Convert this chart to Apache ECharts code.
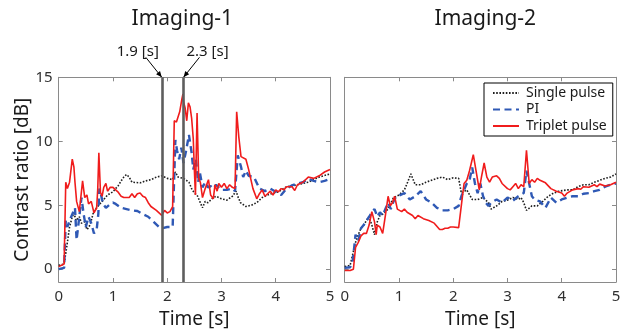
<!DOCTYPE html>
<html>
<head>
<meta charset="utf-8">
<script src="https://cdn.jsdelivr.net/npm/echarts/dist/echarts.min.js"></script>
<style>
html,body{margin:0;padding:0;background:#fff;}
#chart{width:625px;height:334px;}
</style>
</head>
<body>
<div id="chart"></div>
<script>
// ---------- DATA ----------
const panelTitles = ['Imaging-1', 'Imaging-2'];
const seriesNames = ['Single pulse', 'PI', 'Triplet pulse'];
const xTicks = [0, 1, 2, 3, 4, 5];
const yTicks = [0, 5, 10, 15];
const markTimes = [1.9, 2.3];
const markLabels = ['1.9 [s]', '2.3 [s]'];

// Imaging-1
const t1Single = [0,0.1,0.15,0.2,0.25,0.28,0.32,0.38,0.42,0.48,0.52,0.56,0.6,0.65,0.7,0.8,0.9,1.0,1.1,1.15,1.2,1.25,1.3,1.35,1.5,1.6,1.7,1.8,1.9,2.0,2.1,2.15,2.2,2.3,2.4,2.45,2.5,2.55,2.6,2.65,2.7,2.75,2.85,2.9,3.0,3.1,3.2,3.27,3.3,3.35,3.45,3.55,3.65,3.75,3.85,3.95,4.05,4.2,4.4,4.6,4.8,5.0];
const v1Single = [0.3,0.4,1.8,3.3,4.1,4.4,3.8,4.1,3.6,3.7,3.1,3.3,3.8,4.6,4.8,5.3,5.8,6.05,6.55,6.9,7.2,7.4,7.2,6.8,6.75,6.9,7.0,7.2,7.3,7.1,7.0,7.6,7.2,7.1,6.8,6.3,5.95,5.8,5.3,4.8,5.3,5.2,5.6,5.7,5.5,5.4,5.7,6.1,5.7,5.2,4.9,5.0,5.2,5.6,5.8,5.95,6.05,6.45,6.6,6.8,7.2,7.45];

const t1PI = [0,0.1,0.13,0.16,0.2,0.25,0.3,0.33,0.38,0.42,0.46,0.5,0.55,0.6,0.65,0.7,0.73,0.75,0.78,0.82,0.87,0.95,1.0,1.05,1.15,1.25,1.35,1.45,1.55,1.65,1.75,1.85,1.9,2.0,2.1,2.15,2.18,2.22,2.26,2.3,2.35,2.4,2.45,2.48,2.53,2.57,2.6,2.65,2.7,2.75,2.8,2.85,2.9,3.0,3.1,3.2,3.25,3.3,3.36,3.4,3.45,3.5,3.6,3.7,3.8,3.9,4.0,4.1,4.2,4.3,4.4,4.5,4.6,4.7,4.8,4.9,5.0];
const v1PI = [0.0,0.1,3.8,3.3,3.8,4.3,4.8,2.3,4.1,5.6,4.3,3.3,4.1,3.6,2.8,3.1,4.3,6.3,5.8,5.1,4.8,5.1,5.2,5.1,4.8,4.7,4.6,4.55,4.3,4.1,3.7,3.3,3.2,3.3,3.3,10.1,9.3,8.6,9.5,8.3,9.3,10.5,9.1,7.8,8.6,6.8,7.6,6.4,6.8,6.4,6.5,6.3,6.6,6.2,6.2,6.3,6.1,8.9,8.0,7.2,7.7,7.3,7.2,6.3,6.1,6.3,6.05,5.8,6.3,6.55,6.7,6.8,7.05,6.9,6.8,6.9,7.05];

const t1Triplet = [0,0.1,0.13,0.16,0.2,0.25,0.28,0.3,0.33,0.38,0.4,0.44,0.48,0.52,0.55,0.6,0.65,0.7,0.72,0.74,0.77,0.8,0.83,0.87,0.9,0.95,1.0,1.1,1.15,1.2,1.3,1.35,1.4,1.45,1.5,1.55,1.6,1.65,1.7,1.8,1.85,1.9,1.95,2.0,2.05,2.1,2.13,2.17,2.2,2.23,2.27,2.29,2.3,2.33,2.36,2.39,2.42,2.45,2.48,2.5,2.52,2.55,2.58,2.61,2.65,2.7,2.76,2.8,2.85,2.88,2.92,2.95,3.0,3.05,3.1,3.15,3.2,3.25,3.28,3.32,3.36,3.45,3.5,3.58,3.65,3.7,3.75,3.8,3.85,3.9,3.95,4.0,4.05,4.1,4.15,4.2,4.3,4.35,4.4,4.5,4.6,4.7,4.8,4.9,5.0];
const v1Triplet = [0.2,0.4,6.8,6.3,6.8,8.6,8.0,6.8,5.3,4.5,5.3,6.9,5.6,5.8,5.1,5.3,4.4,4.8,6.3,9.1,6.0,5.7,6.4,6.7,6.1,6.4,6.4,6.0,5.7,5.6,5.6,5.9,5.6,5.9,5.95,5.7,5.6,5.2,4.9,4.6,4.4,4.2,4.6,4.4,4.5,4.9,11.6,11.5,11.6,12.3,13.3,13.7,13.1,12.6,11.6,13.0,12.7,11.8,10.2,7.8,5.8,12.2,7.1,6.8,5.6,6.3,7.0,5.8,5.5,6.6,6.1,6.7,6.4,6.7,6.3,6.6,6.4,6.3,12.3,10.3,8.8,8.6,7.8,6.3,5.5,5.9,6.2,5.7,5.9,6.1,5.8,6.2,6.05,6.3,6.2,6.45,6.45,6.15,6.6,6.8,7.2,7.1,7.3,7.6,7.8];

// Imaging-2
const t2Single = [0,0.1,0.15,0.2,0.25,0.3,0.35,0.4,0.45,0.5,0.55,0.6,0.65,0.7,0.8,0.9,1.0,1.1,1.15,1.22,1.3,1.4,1.5,1.6,1.7,1.8,1.9,2.0,2.1,2.15,2.25,2.35,2.45,2.55,2.65,2.7,2.8,2.9,3.0,3.1,3.2,3.25,3.3,3.35,3.45,3.55,3.65,3.75,3.85,3.95,4.1,4.2,4.3,4.4,4.5,4.6,4.7,4.8,4.9,5.0];
const v2Single = [0.2,0.3,1.2,2.1,2.7,3.2,3.45,3.8,4.1,3.45,2.7,3.7,4.2,4.3,4.7,5.6,5.8,6.2,6.7,7.45,6.6,6.6,6.8,6.95,7.1,7.2,7.0,7.15,7.1,5.95,6.2,5.45,5.45,5.6,5.2,4.7,4.95,5.3,5.4,5.6,5.45,5.6,5.2,4.6,4.95,4.95,5.3,5.7,5.95,6.1,6.2,6.2,6.45,6.6,6.6,6.8,6.95,7.1,7.2,7.45];

const t2PI = [0,0.1,0.15,0.2,0.25,0.3,0.35,0.45,0.5,0.55,0.6,0.65,0.7,0.75,0.8,0.85,0.9,0.95,1.0,1.1,1.2,1.3,1.4,1.5,1.6,1.7,1.8,1.9,2.0,2.1,2.15,2.2,2.25,2.3,2.35,2.4,2.45,2.5,2.55,2.6,2.65,2.7,2.8,2.9,3.0,3.1,3.2,3.3,3.35,3.4,3.45,3.5,3.6,3.7,3.8,3.9,4.0,4.1,4.2,4.3,4.4,4.5,4.6,4.7,4.8,4.9,5.0];
const v2PI = [0.1,0.15,0.7,2.7,2.2,3.2,3.45,4.1,4.45,4.7,4.1,4.45,4.2,4.7,5.2,4.7,5.3,5.7,5.75,5.95,5.45,5.7,6.1,5.45,5.2,4.8,4.6,4.6,4.7,4.95,5.7,6.2,6.7,6.95,7.95,6.7,5.95,6.7,5.7,5.2,4.95,5.2,5.45,5.2,5.6,5.35,5.7,5.95,7.7,6.7,5.7,5.45,5.3,4.8,5.6,5.2,5.45,5.6,5.7,5.7,5.9,5.95,6.1,6.2,6.45,6.6,6.7];

const t2Triplet = [0,0.1,0.16,0.2,0.25,0.3,0.35,0.4,0.45,0.5,0.55,0.58,0.6,0.65,0.7,0.75,0.8,0.84,0.88,0.92,0.97,1.05,1.1,1.15,1.25,1.3,1.35,1.45,1.55,1.65,1.75,1.8,1.85,1.9,1.95,2.0,2.1,2.17,2.2,2.25,2.3,2.37,2.42,2.48,2.52,2.57,2.62,2.67,2.72,2.8,2.85,2.9,3.0,3.05,3.1,3.15,3.2,3.25,3.3,3.35,3.4,3.45,3.5,3.55,3.6,3.7,3.8,3.9,4.0,4.05,4.1,4.2,4.3,4.35,4.4,4.5,4.6,4.65,4.7,4.8,4.9,5.0];
const v2Triplet = [-0.1,-0.1,0.0,1.7,2.1,2.6,2.8,2.8,3.45,4.5,3.7,2.7,3.45,3.3,2.8,4.2,5.7,4.95,5.2,5.7,4.7,4.5,4.7,4.45,4.2,3.95,4.2,3.95,3.8,3.6,3.1,3.1,3.2,3.2,3.3,3.3,3.25,5.7,6.7,6.95,7.7,8.95,7.7,6.2,7.2,8.3,7.2,6.8,7.2,7.3,7.1,6.7,6.3,6.2,6.45,6.7,6.3,6.6,6.45,9.3,6.7,7.0,6.8,7.1,6.95,6.75,6.3,6.1,5.95,5.7,5.95,6.2,6.3,6.25,6.45,6.4,6.6,6.45,6.65,6.5,6.6,6.8];

// ---------- CHART ----------
const FONT = 'Noto Sans';
const zip = (t, v) => t.map((x, i) => [x, v[i]]);
const colors = { single: '#1f1f1f', pi: '#2f59b5', triplet: '#f01c1c' };

const grids = [
  { left: 58.7, top: 77.3, width: 271.3, height: 211.4 },
  { left: 344.7, top: 77.3, width: 271.3, height: 211.4 }
];

const frameColor = '#8a8a8a';
const labelColor = '#303030';

function xAx(gi, pos) {
  const bottom = pos === 'bottom';
  return {
    type: 'value', gridIndex: gi, position: pos, min: 0, max: 5, interval: 1,
    axisLine: { show: true, onZero: false, lineStyle: { color: frameColor, width: 1 } },
    axisTick: { show: true, inside: true, length: 4, lineStyle: { color: frameColor } },
    axisLabel: { show: bottom, margin: 7, color: labelColor, fontFamily: FONT, fontSize: 15,
      customValues: xTicks },
    splitLine: { show: false },
    name: bottom ? 'Time [s]' : '', nameLocation: 'middle', nameGap: 28,
    nameTextStyle: { fontFamily: FONT, fontSize: 19, color: '#1a1a1a' }
  };
}
function yAx(gi, pos, labels) {
  return {
    type: 'value', gridIndex: gi, position: pos, min: -1, max: 15,
    axisLine: { show: true, onZero: false, lineStyle: { color: frameColor, width: 1 } },
    axisTick: { show: true, inside: true, length: 4, customValues: yTicks, lineStyle: { color: frameColor } },
    axisLabel: { show: labels, customValues: yTicks, margin: 6, color: labelColor, fontFamily: FONT, fontSize: 15 },
    splitLine: { show: false },
    name: labels ? 'Contrast ratio [dB]' : '', nameLocation: 'middle', nameGap: 20,
    nameTextStyle: { fontFamily: FONT, fontSize: 19, color: '#1a1a1a' }
  };
}

function mkSeries(name, gi, t, v, kind, extra) {
  const s = {
    name, type: 'line', xAxisIndex: gi * 2, yAxisIndex: gi * 2,
    data: zip(t, v), symbol: 'none', showSymbol: false, animation: false,
    lineStyle: {}
  };
  if (kind === 'single') { s.lineStyle = { color: colors.single, width: 1.6, type: [1.6, 1.6] }; s.itemStyle = { color: colors.single }; s.z = 2; }
  if (kind === 'pi') { s.lineStyle = { color: colors.pi, width: 2.4, type: [7, 4.5] }; s.itemStyle = { color: colors.pi }; s.z = 3; }
  if (kind === 'triplet') { s.lineStyle = { color: colors.triplet, width: 1.6 }; s.itemStyle = { color: colors.triplet }; s.z = 4; }
  return Object.assign(s, extra || {});
}

const markLineCfg = {
  silent: true, symbol: ['none', 'none'], animation: false,
  label: { show: false },
  lineStyle: { color: '#5e5e5e', width: 2.6, type: 'solid' },
  data: markTimes.map(t => ({ xAxis: t }))
};

const option = {
  animation: false,
  backgroundColor: '#ffffff',
  grid: grids,
  xAxis: [xAx(0, 'bottom'), xAx(0, 'top'), xAx(1, 'bottom'), xAx(1, 'top')],
  yAxis: [yAx(0, 'left', true), yAx(0, 'right', false), yAx(1, 'left', false), yAx(1, 'right', false)],
  legend: {
    data: seriesNames,
    orient: 'vertical', left: 484, top: 83,
    itemWidth: 26, itemHeight: 14, itemGap: 2.5,
    padding: [3, 6, 3, 8],
    itemStyle: { opacity: 0, borderWidth: 0 },
    backgroundColor: '#ffffff', borderColor: '#000000', borderWidth: 1, borderRadius: 0,
    textStyle: { fontFamily: FONT, fontSize: 14, color: '#1a1a1a', padding: [0, 0, 0, 2] }
  },
  series: [
    mkSeries(seriesNames[0], 0, t1Single, v1Single, 'single'),
    mkSeries(seriesNames[1], 0, t1PI, v1PI, 'pi'),
    mkSeries(seriesNames[2], 0, t1Triplet, v1Triplet, 'triplet', { markLine: markLineCfg }),
    mkSeries(seriesNames[0], 1, t2Single, v2Single, 'single'),
    mkSeries(seriesNames[1], 1, t2PI, v2PI, 'pi'),
    mkSeries(seriesNames[2], 1, t2Triplet, v2Triplet, 'triplet')
  ]
};

const chart = echarts.init(document.getElementById('chart'), null, { renderer: 'canvas' });
chart.setOption(option);

// titles and arrow annotations (positions derived from the axes)
const gfx = [];
[0, 1].forEach(gi => {
  const a = chart.convertToPixel({ gridIndex: gi }, [0, 15]);
  const b = chart.convertToPixel({ gridIndex: gi }, [5, 15]);
  const cx = gi === 0 ? (a[0] + b[0]) / 2 - 12 : (a[0] + b[0]) / 2 + 5;
  gfx.push({ type: 'text', x: cx, y: 19, style: { text: panelTitles[gi], align: 'center', verticalAlign: 'middle', font: '21px "' + FONT + '"', fill: '#1a1a1a' } });
});
markTimes.forEach((t, i) => {
  const tip = chart.convertToPixel({ gridIndex: 0 }, [t, 15]);
  const dir = i === 0 ? -1 : 1;
  const start = [tip[0] + dir * 16, tip[1] - 20];
  gfx.push({ type: 'line', shape: { x1: start[0], y1: start[1], x2: tip[0], y2: tip[1] }, style: { stroke: '#000', lineWidth: 1 } });
  const ang = Math.atan2(tip[1] - start[1], tip[0] - start[0]);
  const L = 6, W = 2.5;
  const bx = tip[0] - L * Math.cos(ang), by = tip[1] - L * Math.sin(ang);
  const nx = -Math.sin(ang), ny = Math.cos(ang);
  gfx.push({ type: 'polygon', shape: { points: [[tip[0], tip[1]], [bx + W * nx, by + W * ny], [bx - W * nx, by - W * ny]] }, style: { fill: '#000' } });
  gfx.push({ type: 'text', x: start[0] + dir * 8, y: start[1] - 6, style: { text: markLabels[i], align: 'center', verticalAlign: 'middle', font: '15px "' + FONT + '"', fill: '#1a1a1a' } });
});
chart.setOption({ graphic: gfx });
</script>
</body>
</html>
